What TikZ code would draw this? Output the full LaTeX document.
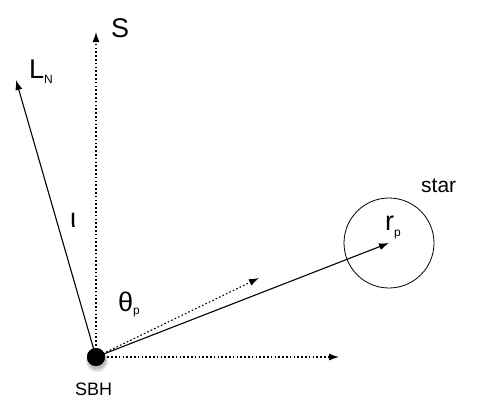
\documentclass[tikz,border=0pt]{standalone}
\usepackage{fontspec}
\setmainfont{Liberation Sans}
\usetikzlibrary{arrows.meta}
\newcommand{\lowsub}[2][-4pt]{\raisebox{#1}{\fontsize{12}{13}\selectfont #2}}
\begin{document}
\begin{tikzpicture}[x=1pt,y=-1pt,
  vec/.style={line width=1.1pt,-{Latex[length=10pt,width=7pt]}},
  aux/.style={vec,dash pattern=on 1.6pt off 2.2pt},
  lab/.style={anchor=base west,inner sep=0pt,font=\fontsize{27}{29}\selectfont}]
\useasboundingbox (0,0) rectangle (485,410);

 % shadow below the black hole
 \fill[black!12] (97,361) circle (11pt);
 \fill[black!25] (97,360) circle (9.5pt);
 \node[circle,fill=black,minimum size=18pt,inner sep=0pt] (sbh) at (96,357) {};
 \node[circle,draw,line width=0.8pt,minimum size=90pt,inner sep=0pt] (star) at (389,243) {};
 \coordinate (s) at (96,32);
 \coordinate (ln) at (16,80);
 \coordinate (orb) at (259,278);
 \coordinate (x) at (339,357);

 \draw[aux] (sbh.center) -- (s);
 \draw[aux] (sbh.center) -- (orb);
 \draw[aux] (sbh.center) -- (x);
 \draw[vec] (sbh.center) -- (ln);
 \draw[vec] (sbh.center) -- (star.center);
 \node[circle,fill=black,minimum size=18pt,inner sep=0pt] at (sbh) {};

 \node[lab] (slab) at (111,37) {S};
 \node[lab] (lnlab) at (29,78) {L\lowsub[-5pt]{N}};
 \node[lab] (iota) at (70,227) {ι};
 \node[lab] (theta) at (118,311) {θ\lowsub[-3pt]{p}};
 \node[lab] (rp) at (385,230) {r\lowsub[-6pt]{p}};
 \node[lab,font=\fontsize{21}{23}\selectfont] (starlab) at (421,192) {star};
 \node[lab,font=\fontsize{18}{20}\selectfont] (sbhlab) at (75,395) {SBH};
\end{tikzpicture}
\end{document}
